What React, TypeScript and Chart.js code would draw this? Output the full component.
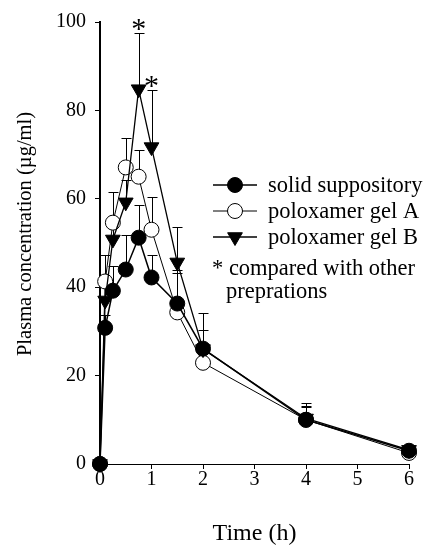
import React, { useEffect, useRef } from "react";
import { Chart, registerables } from "chart.js";

Chart.register(...registerables);

// ---- data ----
const times = [0, 0.1, 0.25, 0.5, 0.75, 1, 1.5, 2, 4, 6];
const solidSupp = [0, 30.8, 39.2, 44.0, 51.2, 42.2, 36.3, 26.1, 10.0, 3.0];
const solidSuppErr = [0, 3.0, 5.5, 7.7, 7.5, 5.0, 7.0, 4.3, 3.2, 1.0];
const gelA = [0, 41.3, 54.6, 67.1, 65.0, 53.0, 34.3, 22.9, 10.0, 2.5];
const gelAErr = [0, 6.0, 7.0, 6.6, 6.1, 7.5, 9.5, 3.0, 3.0, 1.0];
const gelB = [0, 37.0, 50.8, 59.2, 84.8, 71.7, 45.6, 26.0, 10.3, 3.2];
const gelBErr = [0, 3.0, 4.7, 5.0, 12.7, 13.0, 8.0, 8.2, 3.6, 1.0];
const gelBSignificant = [false, false, false, false, true, true, false, false, false, false];
const seriesNames = ["solid suppository", "poloxamer gel A", "poloxamer gel B"];
const noteLines = ["* compared with other", "preprations"];
const xTitle = "Time (h)";
const yTitle = "Plasma concentration (\u00b5g/ml)";

const FONT = '"Liberation Serif", "Times New Roman", serif';

function drawMarker(ctx: CanvasRenderingContext2D, style: string, x: number, y: number, r: number, fill: string) {
  ctx.save();
  ctx.beginPath();
  if (style === "triangle") {
    const a = Math.PI;
    for (let k = 0; k < 3; k++) {
      const ang = a + (k * 2 * Math.PI) / 3;
      const px = x + Math.sin(ang) * r;
      const py = y - Math.cos(ang) * r;
      if (k === 0) ctx.moveTo(px, py);
      else ctx.lineTo(px, py);
    }
    ctx.closePath();
  } else {
    ctx.arc(x, y, r, 0, Math.PI * 2);
  }
  ctx.fillStyle = fill;
  ctx.fill();
  ctx.lineWidth = 1;
  ctx.strokeStyle = "#000";
  ctx.stroke();
  ctx.restore();
}

const errorBarPlugin = {
  id: "errorBars",
  beforeDatasetsDraw(chart: any) {
    const ctx = chart.ctx as CanvasRenderingContext2D;
    const xs = chart.scales.x;
    const ys = chart.scales.y;
    ctx.save();
    ctx.strokeStyle = "#000";
    ctx.lineWidth = 1;
    chart.data.datasets.forEach((ds: any) => {
      const errs: number[] = ds.errors || [];
      ds.data.forEach((p: any, i: number) => {
        const e = errs[i];
        if (!e) return;
        const x = Math.round(xs.getPixelForValue(p.x)) + 0.5;
        const y0 = ys.getPixelForValue(p.y);
        const y1 = Math.round(ys.getPixelForValue(p.y + e)) + 0.5;
        ctx.beginPath();
        ctx.moveTo(x, y0);
        ctx.lineTo(x, y1);
        ctx.moveTo(x - 5, y1);
        ctx.lineTo(x + 5, y1);
        ctx.stroke();
      });
    });
    ctx.restore();
  },
  afterDatasetsDraw(chart: any) {
    const ctx = chart.ctx as CanvasRenderingContext2D;
    const xs = chart.scales.x;
    const ys = chart.scales.y;
    ctx.save();
    ctx.fillStyle = "#000";
    ctx.font = `30px ${FONT}`;
    ctx.textAlign = "center";
    ctx.textBaseline = "alphabetic";
    chart.data.datasets.forEach((ds: any) => {
      const sig: boolean[] = ds.significant || [];
      ds.data.forEach((p: any, i: number) => {
        if (!sig[i]) return;
        const x = xs.getPixelForValue(p.x);
        const y1 = ys.getPixelForValue(p.y + (ds.errors[i] || 0));
        ctx.fillText("*", x, y1 + 5);
      });
    });
    ctx.restore();
  },
  afterDraw(chart: any) {
    const ctx = chart.ctx as CanvasRenderingContext2D;
    ctx.save();
    ctx.fillStyle = "#000";
    ctx.font = `20.5px ${FONT}`;
    ctx.textAlign = "center";
    ctx.textBaseline = "middle";
    ctx.translate(26, 234);
    ctx.rotate(-Math.PI / 2);
    ctx.fillText(yTitle, 0, 0);
    ctx.restore();

    // legend
    ctx.save();
    const rows = [185, 211, 237];
    chart.data.datasets.forEach((ds: any, i: number) => {
      const y = rows[i];
      ctx.beginPath();
      ctx.strokeStyle = "#000";
      ctx.lineWidth = ds.borderWidth;
      ctx.moveTo(213, y);
      ctx.lineTo(257, y);
      ctx.stroke();
      drawMarker(ctx, ds.pointStyle, 235, y, ds.pointRadius, ds.pointBackgroundColor);
      ctx.fillStyle = "#000";
      ctx.font = `22.5px ${FONT}`;
      ctx.textAlign = "left";
      ctx.textBaseline = "middle";
      ctx.fillText(ds.label, 268, y + 1);
    });
    ctx.font = `22.5px ${FONT}`;
    ctx.textAlign = "left";
    ctx.textBaseline = "middle";
    ctx.fillText(noteLines[0], 212, 269);
    ctx.fillText(noteLines[1], 226, 292);
    ctx.restore();
  },
};

export default function App() {
  const ref = useRef<HTMLCanvasElement | null>(null);
  useEffect(() => {
    if (!ref.current) return;
    const mk = (vals: number[]) => times.map((t, i) => ({ x: t, y: vals[i] }));
    const chart = new Chart(ref.current, {
      type: "line",
      data: {
        datasets: [
          {
            label: seriesNames[0],
            data: mk(solidSupp),
            errors: solidSuppErr,
            borderColor: "#000",
            backgroundColor: "#000",
            borderWidth: 1.5,
            pointStyle: "circle",
            pointRadius: 7.5,
            pointBackgroundColor: "#000",
            pointBorderColor: "#000",
            pointBorderWidth: 1,
            tension: 0,
            clip: false,
            order: 1,
          } as any,
          {
            label: seriesNames[1],
            data: mk(gelA),
            errors: gelAErr,
            borderColor: "#000",
            backgroundColor: "#fff",
            borderWidth: 1,
            pointStyle: "circle",
            pointRadius: 7.5,
            pointBackgroundColor: "#fff",
            pointBorderColor: "#000",
            pointBorderWidth: 1,
            tension: 0,
            clip: false,
            order: 2,
          } as any,
          {
            label: seriesNames[2],
            data: mk(gelB),
            errors: gelBErr,
            significant: gelBSignificant,
            borderColor: "#000",
            backgroundColor: "#000",
            borderWidth: 1.3,
            pointStyle: "triangle",
            pointRotation: 180,
            pointRadius: 8.5,
            pointBackgroundColor: "#000",
            pointBorderColor: "#000",
            pointBorderWidth: 1,
            tension: 0,
            clip: false,
            order: 0,
          } as any,
        ],
      },
      options: {
        animation: false,
        responsive: false,
        layout: { padding: { top: 22, right: 17, left: 0, bottom: 0 } },
        plugins: {
          legend: { display: false },
          tooltip: { enabled: false },
        },
        scales: {
          x: {
            type: "linear",
            min: 0,
            max: 6,
            afterFit: (s: any) => {
              s.height = 82;
            },
            ticks: {
              stepSize: 1,
              color: "#000",
              font: { family: FONT, size: 20 },
              padding: -1,
              maxRotation: 0,
            },
            grid: {
              display: true,
              drawOnChartArea: false,
              drawTicks: true,
              tickLength: 5,
              color: "#000",
              lineWidth: 1,
            },
            border: { display: true, color: "#000", width: 1 },
            title: {
              display: true,
              text: xTitle,
              color: "#000",
              font: { family: FONT, size: 24, lineHeight: 1 },
              padding: { top: 0, bottom: 0 },
            },
          },
          y: {
            type: "linear",
            min: 0,
            max: 100,
            afterFit: (s: any) => {
              s.width = 100;
            },
            ticks: {
              stepSize: 20,
              color: "#000",
              font: { family: FONT, size: 20 },
              padding: 9,
            },
            grid: {
              display: true,
              drawOnChartArea: false,
              drawTicks: true,
              tickLength: 5,
              color: "#000",
              lineWidth: 1,
            },
            border: { display: true, color: "#000", width: 2 },
          },
        },
      } as any,
      plugins: [errorBarPlugin],
    });
    return () => chart.destroy();
  }, []);
  return (
    <div style={{ position: "absolute", left: 0, top: 0, width: 426, height: 546, background: "#fff" }}>
      <canvas ref={ref} width={426} height={546} style={{ display: "block" }} />
    </div>
  );
}
